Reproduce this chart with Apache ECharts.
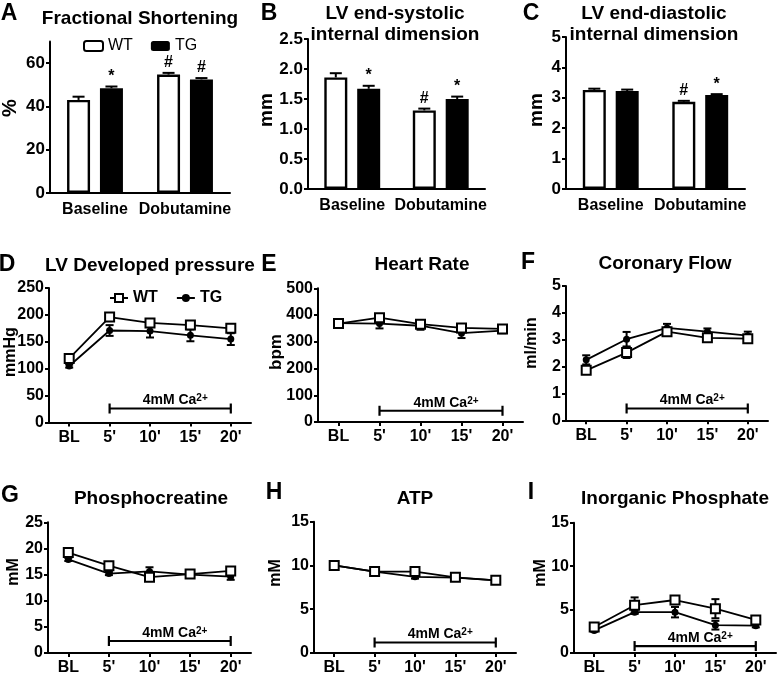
<!DOCTYPE html>
<html><head><meta charset="utf-8">
<script src="https://cdn.jsdelivr.net/npm/echarts@6/dist/echarts.min.js"></script>
<style>html,body{margin:0;padding:0;background:#fff}#c{width:777px;height:676px}</style>
</head><body><div id="c"></div>
<script>
// ---------- categories ----------
const barCats = ['Baseline', 'Dobutamine'];
const timeCats = ['BL', "5'", "10'", "15'", "20'"];

// ---------- A: Fractional Shortening (%) ----------
const fsWT = [43.0, 54.7];   const fsWTErr = [1.5, 0.8];  const fsWTMark = ['', '#'];
const fsTG = [48.4, 52.5];   const fsTGErr = [0.8, 0.6];  const fsTGMark = ['*', '#'];
const fsTicks = [0, 20, 40, 60];

// ---------- B: LV end-systolic internal dimension (mm) ----------
const esWT = [1.86, 1.31];   const esWTErr = [0.07, 0.03]; const esWTMark = ['', '#'];
const esTG = [1.67, 1.50];   const esTGErr = [0.05, 0.04]; const esTGMark = ['*', '*'];
const esTicks = [0, 0.5, 1.0, 1.5, 2.0, 2.5];

// ---------- C: LV end-diastolic internal dimension (mm) ----------
const edWT = [3.26, 2.87];   const edWTErr = [0.04, 0.03]; const edWTMark = ['', '#'];
const edTG = [3.22, 3.09];   const edTGErr = [0.05, 0.03]; const edTGMark = ['', '*'];
const edTicks = [0, 1, 2, 3, 4, 5];

// ---------- D: LV Developed pressure (mmHg) ----------
const dpWT = [119, 196, 185, 181, 175]; const dpWTErr = [4, 6, 6, 4, 5];
const dpTG = [105, 171, 170, 162, 155]; const dpTGErr = [3, 10, 12, 11, 11];
const dpTicks = [0, 50, 100, 150, 200, 250];

// ---------- E: Heart Rate (bpm) ----------
const hrWT = [368, 390, 366, 352, 348]; const hrWTErr = [8, 8, 12, 12, 10];
const hrTG = [370, 368, 360, 332, 342]; const hrTGErr = [8, 18, 15, 18, 10];
const hrTicks = [0, 100, 200, 300, 400, 500];

// ---------- F: Coronary Flow (ml/min) ----------
const cfWT = [1.86, 2.52, 3.30, 3.07, 3.04]; const cfWTErr = [0.08, 0.2, 0.08, 0.08, 0.1];
const cfTG = [2.25, 3.02, 3.44, 3.30, 3.15]; const cfTGErr = [0.17, 0.27, 0.15, 0.12, 0.15];
const cfTicks = [0, 1, 2, 3, 4, 5];

// ---------- G: Phosphocreatine (mM) ----------
const pcWT = [19.2, 16.7, 14.5, 15.1, 15.7]; const pcWTErr = [0.4, 0.4, 0.4, 0.3, 0.5];
const pcTG = [17.9, 15.2, 15.6, 15.0, 14.6]; const pcTGErr = [0.3, 0.3, 0.8, 0.3, 0.6];
const pcTicks = [0, 5, 10, 15, 20, 25];

// ---------- H: ATP (mM) ----------
const atWT = [10.0, 9.3, 9.3, 8.65, 8.3]; const atWTErr = [0.2, 0.2, 0.3, 0.2, 0.2];
const atTG = [10.0, 9.3, 8.7, 8.6, 8.3];  const atTGErr = [0.2, 0.2, 0.2, 0.2, 0.2];
const atTicks = [0, 5, 10, 15];

// ---------- I: Inorganic Phosphate (mM) ----------
const piWT = [3.0, 5.5, 6.1, 5.1, 3.8];  const piWTErr = [0.2, 0.9, 0.3, 1.1, 0.2];
const piTG = [2.6, 4.7, 4.7, 3.2, 3.15]; const piTGErr = [0.15, 0.2, 0.6, 0.5, 0.2];
const piTicks = [0, 5, 10, 15];

// ---------- calcium bracket [from category, to category, level] ----------
const caD = [1, 4, 26];
const caE = [1, 4, 42];
const caF = [1, 4, 0.44];
const caG = [1, 4, 2.3];
const caH = [1, 4, 1.2];
const caI = [1, 4, 0.8];

// ---------- layout / style ----------
const FONT = '"Liberation Sans", Arial, Helvetica, sans-serif';
const BLACK = '#000';
const BAR_W = 23, BAR_GAP = 0.43;
const LW = 2;
const layouts = [
  {left: 50,  top: 41.5,  width: 180, height: 151.5},
  {left: 308, top: 39,    width: 177, height: 150},
  {left: 566, top: 37,    width: 179, height: 152},
  {left: 49,  top: 288,   width: 202, height: 134.5},
  {left: 318, top: 288.3, width: 205, height: 133.7},
  {left: 566, top: 286,   width: 202, height: 134.3},
  {left: 48,  top: 522.3, width: 203, height: 134.4},
  {left: 314, top: 521.7, width: 202, height: 135},
  {left: 574, top: 522.7, width: 202, height: 134.6}
];

const grids = [], xAxes = [], yAxes = [], series = [];

function mkY(gi, ticks, fmt, fs) {
  yAxes.push({
    type: 'value', gridIndex: gi, min: ticks[0], max: (gi === 0 ? 70 : ticks[ticks.length - 1]),
    interval: ticks[1] - ticks[0],
    splitLine: {show: false},
    axisLine: {show: true, lineStyle: {color: BLACK, width: LW}},
    axisTick: {show: true, length: 4, inside: false, customValues: ticks, lineStyle: {color: BLACK, width: LW}},
    axisLabel: {customValues: ticks, margin: 5, color: BLACK, fontWeight: 'bold', fontSize: fs, fontFamily: FONT,
      formatter: fmt || (v => String(v))}
  });
}
function mkX(gi, cats, isBar) {
  xAxes.push({
    type: 'category', gridIndex: gi, data: cats, boundaryGap: true,
    axisLine: {show: true, lineStyle: {color: BLACK, width: LW}},
    axisTick: {show: !isBar, alignWithLabel: true, length: 4, inside: false, lineStyle: {color: BLACK, width: LW}},
    axisLabel: {margin: isBar ? 9 : 7, color: BLACK, fontWeight: 'bold', fontSize: 16, fontFamily: FONT, interval: 0},
    splitLine: {show: false}
  });
}
function seg(x1, y1, x2, y2, w) {
  return {type: 'line', shape: {x1, y1, x2, y2}, style: {stroke: BLACK, lineWidth: w || LW}};
}
function barErr(gi, vals, errs, marks, side) {
  return {
    type: 'custom', xAxisIndex: gi, yAxisIndex: gi, z: 5, silent: true, animation: false,
    data: vals.map((v, i) => [i, v, errs[i]]),
    renderItem: (p, api) => {
      const i = api.value(0), v = api.value(1), e = api.value(2);
      const off = side * (BAR_W + BAR_W * BAR_GAP) / 2;
      const b = api.coord([i, v]), t = api.coord([i, v + e]);
      const x = b[0] + off;
      const ch = [seg(x, b[1], x, t[1], 2), seg(x - 6, t[1], x + 6, t[1], 2)];
      const m = marks[p.dataIndex];
      if (m) ch.push({type: 'text', style: {text: m, x: x, y: t[1] - 2, textAlign: 'center', textVerticalAlign: 'bottom',
        font: 'bold 16px ' + FONT, fill: BLACK}});
      return {type: 'group', children: ch};
    }
  };
}
function lineErr(gi, vals, errs) {
  return {
    type: 'custom', xAxisIndex: gi, yAxisIndex: gi, z: 3, silent: true, animation: false,
    data: vals.map((v, i) => [i, v, errs[i]]),
    renderItem: (p, api) => {
      const i = api.value(0), v = api.value(1), e = api.value(2);
      const t = api.coord([i, v + e]), b = api.coord([i, v - e]);
      const x = t[0];
      return {type: 'group', children: [seg(x, t[1], x, b[1], 2), seg(x - 4, t[1], x + 4, t[1], 2), seg(x - 4, b[1], x + 4, b[1], 2)]};
    }
  };
}
function bracket(gi, br) {
  return {
    type: 'custom', xAxisIndex: gi, yAxisIndex: gi, z: 2, silent: true, animation: false,
    data: [br],
    renderItem: (p, api) => {
      const a = api.coord([api.value(0), api.value(2)]), b = api.coord([api.value(1), api.value(2)]);
      return {type: 'group', children: [
        seg(a[0], a[1], b[0], b[1], 2.2),
        seg(a[0], a[1] - 5, a[0], a[1] + 5, 2.2),
        seg(b[0], b[1] - 5, b[0], b[1] + 5, 2.2),
        {type: 'text', style: {text: '{m|4mM Ca}{s|2+}', x: (a[0] + b[0]) / 2 + 5, y: a[1] - 1,
          textAlign: 'center', textVerticalAlign: 'bottom', fill: BLACK,
          rich: {m: {fontSize: 14, fontWeight: 'bold', fontFamily: FONT, fill: BLACK, verticalAlign: 'bottom'},
                 s: {fontSize: 10, fontWeight: 'bold', fontFamily: FONT, fill: BLACK, verticalAlign: 'top'}}}}
      ]};
    }
  };
}
function barPanel(gi, ticks, fmt, wt, wtE, wtM, tg, tgE, tgM) {
  grids.push(layouts[gi]);
  mkX(gi, barCats, true);
  mkY(gi, ticks, fmt, 17);
  series.push({type: 'bar', name: 'WT_bar', xAxisIndex: gi, yAxisIndex: gi, data: wt, barWidth: BAR_W,
    barGap: (BAR_GAP * 100) + '%', animation: false,
    itemStyle: {color: '#fff', borderColor: BLACK, borderWidth: 2.4}, emphasis: {disabled: true}});
  series.push({type: 'bar', name: 'TG_bar', xAxisIndex: gi, yAxisIndex: gi, data: tg, barWidth: BAR_W,
    barGap: (BAR_GAP * 100) + '%', animation: false,
    itemStyle: {color: BLACK, borderColor: BLACK, borderWidth: 0}, emphasis: {disabled: true}});
  series.push(barErr(gi, wt, wtE, wtM, -1));
  series.push(barErr(gi, tg, tgE, tgM, 1));
}
function linePanel(gi, ticks, wt, wtE, tg, tgE, br) {
  grids.push(layouts[gi]);
  mkX(gi, timeCats, false);
  mkY(gi, ticks, null, 16);
  series.push({type: 'line', name: 'TG_line', xAxisIndex: gi, yAxisIndex: gi, data: tg, z: 4, animation: false,
    symbol: 'circle', symbolSize: 7, lineStyle: {color: BLACK, width: 1.8},
    itemStyle: {color: BLACK}, emphasis: {disabled: true}});
  series.push({type: 'line', name: 'WT_line', xAxisIndex: gi, yAxisIndex: gi, data: wt, z: 5, animation: false,
    symbol: 'rect', symbolSize: 9, lineStyle: {color: BLACK, width: 1.8},
    itemStyle: {color: '#fff', borderColor: BLACK, borderWidth: 2}, emphasis: {disabled: true}});
  series.push(lineErr(gi, wt, wtE));
  series.push(lineErr(gi, tg, tgE));
  series.push(bracket(gi, br));
}

barPanel(0, fsTicks, null, fsWT, fsWTErr, fsWTMark, fsTG, fsTGErr, fsTGMark);
barPanel(1, esTicks, v => v.toFixed(1), esWT, esWTErr, esWTMark, esTG, esTGErr, esTGMark);
barPanel(2, edTicks, null, edWT, edWTErr, edWTMark, edTG, edTGErr, edTGMark);
linePanel(3, dpTicks, dpWT, dpWTErr, dpTG, dpTGErr, caD);
linePanel(4, hrTicks, hrWT, hrWTErr, hrTG, hrTGErr, caE);
linePanel(5, cfTicks, cfWT, cfWTErr, cfTG, cfTGErr, caF);
linePanel(6, pcTicks, pcWT, pcWTErr, pcTG, pcTGErr, caG);
linePanel(7, atTicks, atWT, atWTErr, atTG, atTGErr, caH);
linePanel(8, piTicks, piWT, piWTErr, piTG, piTGErr, caI);

// ---------- texts ----------
function txt(text, x, y, size, rot) {
  return {type: 'text', x: x, y: y, rotation: rot || 0, silent: true,
    style: {text: text, textAlign: 'center', textVerticalAlign: 'middle', font: 'bold ' + size + 'px ' + FONT, fill: BLACK}};
}
const graphics = [
  txt('A', 9, 14, 23), txt('B', 269, 14, 23), txt('C', 531, 14, 23),
  txt('D', 7, 265, 23), txt('E', 269, 265, 23), txt('F', 528, 263, 23),
  txt('G', 10, 496, 23), txt('H', 274, 493, 23), txt('I', 531, 493, 23),
  txt('Fractional Shortening', 140, 19, 19),
  txt('LV end-systolic', 395, 14, 19), txt('internal dimension', 395, 35, 19),
  txt('LV end-diastolic', 654, 14, 19), txt('internal dimension', 654, 35, 19),
  txt('LV Developed pressure', 150, 266, 19), txt('Heart Rate', 422, 265, 19), txt('Coronary Flow', 665, 264, 19),
  txt('Phosphocreatine', 151, 499, 19), txt('ATP', 415, 499, 19), txt('Inorganic Phosphate', 675, 499, 19),
  txt('%', 10, 108, 20, Math.PI / 2),
  txt('mm', 267, 110, 19, Math.PI / 2),
  txt('mm', 537, 110, 19, Math.PI / 2),
  txt('mmHg', 11, 352, 16, Math.PI / 2),
  txt('bpm', 276, 352, 17, Math.PI / 2),
  txt('ml/min', 532, 343, 16, Math.PI / 2),
  txt('mM', 14, 572, 16, Math.PI / 2),
  txt('mM', 276, 573, 16, Math.PI / 2),
  txt('mM', 541, 573, 16, Math.PI / 2)
];

const chart = echarts.init(document.getElementById('c'), null, {renderer: 'canvas'});
chart.setOption({
  backgroundColor: '#fff',
  animation: false,
  grid: grids,
  xAxis: xAxes,
  yAxis: yAxes,
  legend: [
    {left: 78, top: 33, itemWidth: 19, itemHeight: 10, itemGap: 18, selectedMode: false,
     data: ['WT_bar', 'TG_bar'], formatter: n => n.split('_')[0],
     textStyle: {fontSize: 16, fontWeight: 'normal', color: BLACK, fontFamily: FONT}},
    {left: 104, top: 285, itemWidth: 18, itemHeight: 10, itemGap: 18, selectedMode: false,
     data: ['WT_line', 'TG_line'], formatter: n => n.split('_')[0],
     textStyle: {fontSize: 16, fontWeight: 'bold', color: BLACK, fontFamily: FONT}}
  ],
  series: series,
  graphic: graphics
});
</script></body></html>
